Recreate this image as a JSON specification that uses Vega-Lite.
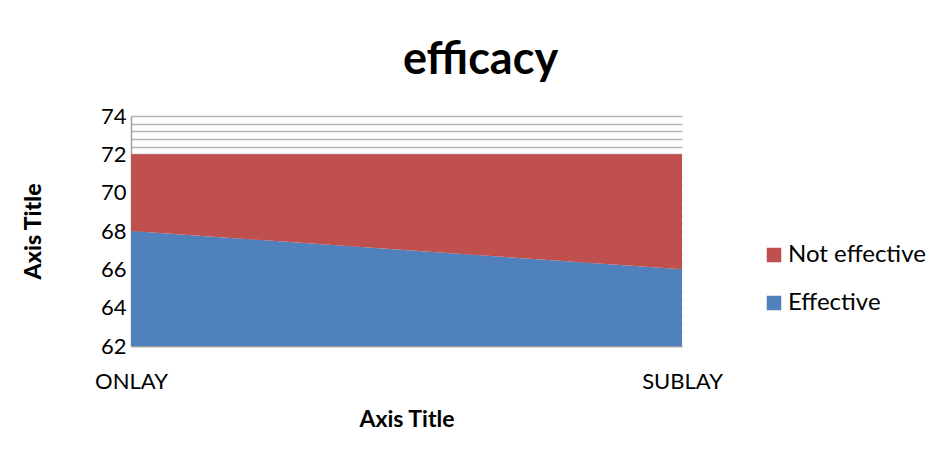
{
  "$schema": "https://vega.github.io/schema/vega-lite/v6.json",
  "width": 551,
  "height": 230,
  "autosize": {"type": "none"},
  "padding": {"left": 131, "top": 116, "right": 265, "bottom": 119},
  "background": "white",
  "title": {
    "text": "efficacy",
    "font": "Lato",
    "fontSize": 45,
    "fontWeight": "bold",
    "color": "#000000",
    "anchor": "middle",
    "dx": 74,
    "offset": 22
  },
  "data": {
    "values": [
      {"group": "ONLAY", "outcome": "Effective", "rank": 1, "value": 68},
      {"group": "SUBLAY", "outcome": "Effective", "rank": 1, "value": 66},
      {"group": "ONLAY", "outcome": "Not effective", "rank": 2, "value": 4},
      {"group": "SUBLAY", "outcome": "Not effective", "rank": 2, "value": 6}
    ]
  },
  "mark": {"type": "area", "clip": true, "opacity": 1},
  "encoding": {
    "x": {
      "field": "group",
      "type": "ordinal",
      "scale": {"type": "point", "padding": 0},
      "axis": {
        "title": "Axis Title",
        "titleFont": "Lato",
        "titleFontSize": 23,
        "titleFontWeight": "bold",
        "titleColor": "#000000",
        "titlePadding": 16,
        "labelFont": "Lato",
        "labelFontSize": 22,
        "labelColor": "#000000",
        "labelAngle": 0,
        "labelPadding": 25,
        "ticks": false,
        "grid": false,
        "domainColor": "#a0a0a0",
        "domainWidth": 1.5
      }
    },
    "y": {
      "field": "value",
      "type": "quantitative",
      "stack": "zero",
      "scale": {"domain": [62, 74], "zero": false, "nice": false},
      "axis": {
        "title": "Axis Title",
        "titleFont": "Lato",
        "titleFontSize": 23,
        "titleFontWeight": "900",
        "titleColor": "#000000",
        "titlePadding": 55,
        "labelFont": "Lato",
        "labelFontSize": 22,
        "labelColor": "#000000",
        "labelPadding": 5,
        "values": [62, 62.4, 62.8, 63.2, 63.6, 64, 64.4, 64.8, 65.2, 65.6, 66, 66.4, 66.8, 67.2, 67.6, 68, 68.4, 68.8, 69.2, 69.6, 70, 70.4, 70.8, 71.2, 71.6, 72, 72.4, 72.8, 73.2, 73.6, 74],
        "labelExpr": "abs(datum.value - 2 * round(datum.value / 2)) < 0.01 ? format(datum.value, 'd') : ''",
        "ticks": false,
        "grid": true,
        "gridColor": "#b4b4b4",
        "gridWidth": 1.5,
        "domainColor": "#a0a0a0",
        "domainWidth": 1.5
      }
    },
    "color": {
      "field": "outcome",
      "type": "nominal",
      "scale": {"domain": ["Not effective", "Effective"], "range": ["#c0504d", "#4f81bd"]},
      "legend": {
        "title": null,
        "orient": "none",
        "legendX": 631,
        "legendY": 127,
        "symbolType": "square",
        "symbolSize": 210,
        "symbolOpacity": 1,
        "symbolStrokeWidth": 0,
        "labelFont": "Lato",
        "labelFontSize": 24,
        "labelColor": "#000000",
        "labelOffset": 2,
        "rowPadding": 24
      }
    },
    "order": {"field": "rank", "type": "quantitative"}
  },
  "config": {"view": {"stroke": null}}
}
